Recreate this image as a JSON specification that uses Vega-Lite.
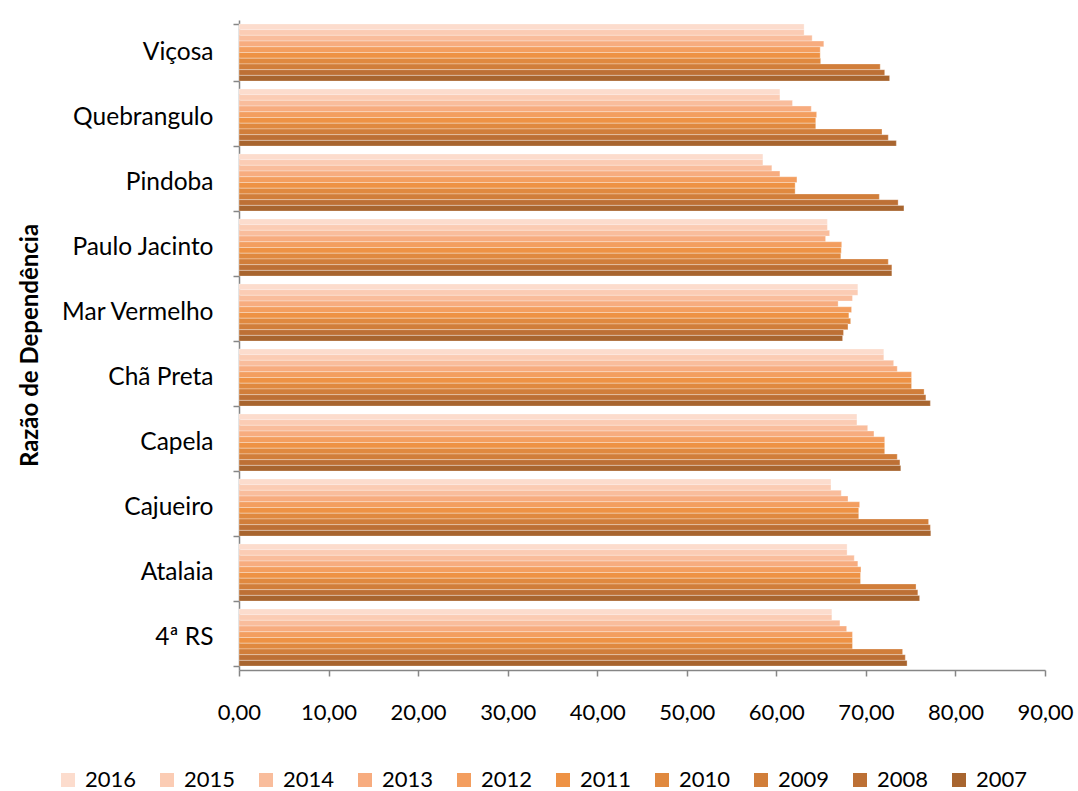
{
  "$schema": "https://vega.github.io/schema/vega-lite/v6.json",
  "width": 806,
  "height": 650,
  "autosize": "none",
  "padding": {"left": 239, "top": 20, "right": 33, "bottom": 121},
  "background": "white",
  "config": {
    "view": {"stroke": null},
    "font": "Lato",
    "axis": {"labelFont": "Lato", "titleFont": "Lato"},
    "legend": {"labelFont": "Lato"}
  },
  "data": {
    "values": [
      {"m": "Viçosa", "y": "2016", "v": 63.1}, {"m": "Viçosa", "y": "2015", "v": 63.1}, {"m": "Viçosa", "y": "2014", "v": 64.0}, {"m": "Viçosa", "y": "2013", "v": 65.3}, {"m": "Viçosa", "y": "2012", "v": 64.9}, {"m": "Viçosa", "y": "2011", "v": 64.9}, {"m": "Viçosa", "y": "2010", "v": 64.95}, {"m": "Viçosa", "y": "2009", "v": 71.6}, {"m": "Viçosa", "y": "2008", "v": 72.1}, {"m": "Viçosa", "y": "2007", "v": 72.65},
      {"m": "Quebrangulo", "y": "2016", "v": 60.4}, {"m": "Quebrangulo", "y": "2015", "v": 60.4}, {"m": "Quebrangulo", "y": "2014", "v": 61.8}, {"m": "Quebrangulo", "y": "2013", "v": 63.9}, {"m": "Quebrangulo", "y": "2012", "v": 64.5}, {"m": "Quebrangulo", "y": "2011", "v": 64.4}, {"m": "Quebrangulo", "y": "2010", "v": 64.4}, {"m": "Quebrangulo", "y": "2009", "v": 71.8}, {"m": "Quebrangulo", "y": "2008", "v": 72.5}, {"m": "Quebrangulo", "y": "2007", "v": 73.4},
      {"m": "Pindoba", "y": "2016", "v": 58.5}, {"m": "Pindoba", "y": "2015", "v": 58.5}, {"m": "Pindoba", "y": "2014", "v": 59.5}, {"m": "Pindoba", "y": "2013", "v": 60.4}, {"m": "Pindoba", "y": "2012", "v": 62.3}, {"m": "Pindoba", "y": "2011", "v": 62.1}, {"m": "Pindoba", "y": "2010", "v": 62.1}, {"m": "Pindoba", "y": "2009", "v": 71.5}, {"m": "Pindoba", "y": "2008", "v": 73.6}, {"m": "Pindoba", "y": "2007", "v": 74.25},
      {"m": "Paulo Jacinto", "y": "2016", "v": 65.7}, {"m": "Paulo Jacinto", "y": "2015", "v": 65.7}, {"m": "Paulo Jacinto", "y": "2014", "v": 65.95}, {"m": "Paulo Jacinto", "y": "2013", "v": 65.5}, {"m": "Paulo Jacinto", "y": "2012", "v": 67.3}, {"m": "Paulo Jacinto", "y": "2011", "v": 67.25}, {"m": "Paulo Jacinto", "y": "2010", "v": 67.2}, {"m": "Paulo Jacinto", "y": "2009", "v": 72.5}, {"m": "Paulo Jacinto", "y": "2008", "v": 72.9}, {"m": "Paulo Jacinto", "y": "2007", "v": 72.9},
      {"m": "Mar Vermelho", "y": "2016", "v": 69.1}, {"m": "Mar Vermelho", "y": "2015", "v": 69.1}, {"m": "Mar Vermelho", "y": "2014", "v": 68.5}, {"m": "Mar Vermelho", "y": "2013", "v": 66.9}, {"m": "Mar Vermelho", "y": "2012", "v": 68.4}, {"m": "Mar Vermelho", "y": "2011", "v": 68.1}, {"m": "Mar Vermelho", "y": "2010", "v": 68.3}, {"m": "Mar Vermelho", "y": "2009", "v": 68.0}, {"m": "Mar Vermelho", "y": "2008", "v": 67.5}, {"m": "Mar Vermelho", "y": "2007", "v": 67.4},
      {"m": "Chã Preta", "y": "2016", "v": 72.0}, {"m": "Chã Preta", "y": "2015", "v": 72.0}, {"m": "Chã Preta", "y": "2014", "v": 73.1}, {"m": "Chã Preta", "y": "2013", "v": 73.5}, {"m": "Chã Preta", "y": "2012", "v": 75.1}, {"m": "Chã Preta", "y": "2011", "v": 75.1}, {"m": "Chã Preta", "y": "2010", "v": 75.1}, {"m": "Chã Preta", "y": "2009", "v": 76.5}, {"m": "Chã Preta", "y": "2008", "v": 76.7}, {"m": "Chã Preta", "y": "2007", "v": 77.2},
      {"m": "Capela", "y": "2016", "v": 69.0}, {"m": "Capela", "y": "2015", "v": 69.0}, {"m": "Capela", "y": "2014", "v": 70.2}, {"m": "Capela", "y": "2013", "v": 70.9}, {"m": "Capela", "y": "2012", "v": 72.1}, {"m": "Capela", "y": "2011", "v": 72.1}, {"m": "Capela", "y": "2010", "v": 72.1}, {"m": "Capela", "y": "2009", "v": 73.5}, {"m": "Capela", "y": "2008", "v": 73.8}, {"m": "Capela", "y": "2007", "v": 73.9},
      {"m": "Cajueiro", "y": "2016", "v": 66.1}, {"m": "Cajueiro", "y": "2015", "v": 66.1}, {"m": "Cajueiro", "y": "2014", "v": 67.25}, {"m": "Cajueiro", "y": "2013", "v": 68.0}, {"m": "Cajueiro", "y": "2012", "v": 69.3}, {"m": "Cajueiro", "y": "2011", "v": 69.2}, {"m": "Cajueiro", "y": "2010", "v": 69.2}, {"m": "Cajueiro", "y": "2009", "v": 77.0}, {"m": "Cajueiro", "y": "2008", "v": 77.2}, {"m": "Cajueiro", "y": "2007", "v": 77.25},
      {"m": "Atalaia", "y": "2016", "v": 67.9}, {"m": "Atalaia", "y": "2015", "v": 67.9}, {"m": "Atalaia", "y": "2014", "v": 68.7}, {"m": "Atalaia", "y": "2013", "v": 69.1}, {"m": "Atalaia", "y": "2012", "v": 69.45}, {"m": "Atalaia", "y": "2011", "v": 69.4}, {"m": "Atalaia", "y": "2010", "v": 69.4}, {"m": "Atalaia", "y": "2009", "v": 75.6}, {"m": "Atalaia", "y": "2008", "v": 75.8}, {"m": "Atalaia", "y": "2007", "v": 76.0},
      {"m": "4ª RS", "y": "2016", "v": 66.2}, {"m": "4ª RS", "y": "2015", "v": 66.2}, {"m": "4ª RS", "y": "2014", "v": 67.1}, {"m": "4ª RS", "y": "2013", "v": 67.85}, {"m": "4ª RS", "y": "2012", "v": 68.5}, {"m": "4ª RS", "y": "2011", "v": 68.5}, {"m": "4ª RS", "y": "2010", "v": 68.5}, {"m": "4ª RS", "y": "2009", "v": 74.1}, {"m": "4ª RS", "y": "2008", "v": 74.4}, {"m": "4ª RS", "y": "2007", "v": 74.6}
    ]
  },
  "mark": {"type": "bar", "stroke": "#ffffff", "strokeWidth": 0.5, "strokeOpacity": 0.6},
  "encoding": {
    "y": {
      "field": "m",
      "type": "nominal",
      "sort": ["Viçosa", "Quebrangulo", "Pindoba", "Paulo Jacinto", "Mar Vermelho", "Chã Preta", "Capela", "Cajueiro", "Atalaia", "4ª RS"],
      "scale": {"paddingInner": 0.12, "paddingOuter": 0.06},
      "axis": {
        "title": "Razão de Dependência",
        "titleFontSize": 24,
        "titleFontWeight": "bold",
        "titleColor": "#000000",
        "titleX": -209,
        "titleY": 325,
        "titleAlign": "center",
        "titleAngle": -90,
        "titleBaseline": "middle",
        "labelFontSize": 24.5,
        "labelColor": "#000000",
        "labelPadding": 20,
        "tickSize": 6,
        "tickBand": "extent",
        "tickColor": "#868686",
        "tickWidth": 1.5,
        "domainColor": "#868686",
        "domainWidth": 1.5,
        "grid": false
      }
    },
    "yOffset": {
      "field": "y",
      "type": "nominal",
      "scale": {"domain": ["2016", "2015", "2014", "2013", "2012", "2011", "2010", "2009", "2008", "2007"], "paddingInner": 0, "paddingOuter": 0}
    },
    "x": {
      "field": "v",
      "type": "quantitative",
      "scale": {"domain": [0, 90], "nice": false},
      "axis": {
        "title": null,
        "values": [0, 10, 20, 30, 40, 50, 60, 70, 80, 90],
        "labelExpr": "replace(format(datum.value, '.2f'), '.', ',')",
        "labelFlush": false,
        "labelOverlap": false,
        "labelFontSize": 22,
        "labelColor": "#000000",
        "labelPadding": 26,
        "tickSize": 6,
        "tickColor": "#868686",
        "tickWidth": 1.5,
        "domainColor": "#868686",
        "domainWidth": 1.5,
        "grid": false
      }
    },
    "color": {
      "field": "y",
      "type": "nominal",
      "scale": {
        "domain": ["2016", "2015", "2014", "2013", "2012", "2011", "2010", "2009", "2008", "2007"],
        "range": ["#FCDCCD", "#FBCCB4", "#F9BD9C", "#F7AC7F", "#F39E5F", "#EE9244", "#E0893F", "#D17E3A", "#BD7035", "#A8652F"]
      },
      "legend": {
        "title": null,
        "orient": "none",
        "direction": "horizontal",
        "columns": 10,
        "legendX": -182,
        "legendY": 749,
        "symbolType": "square",
        "symbolSize": 196,
        "symbolStrokeWidth": 0,
        "labelFontSize": 22,
        "labelColor": "#000000",
        "labelOffset": 6,
        "columnPadding": 19
      }
    }
  }
}
